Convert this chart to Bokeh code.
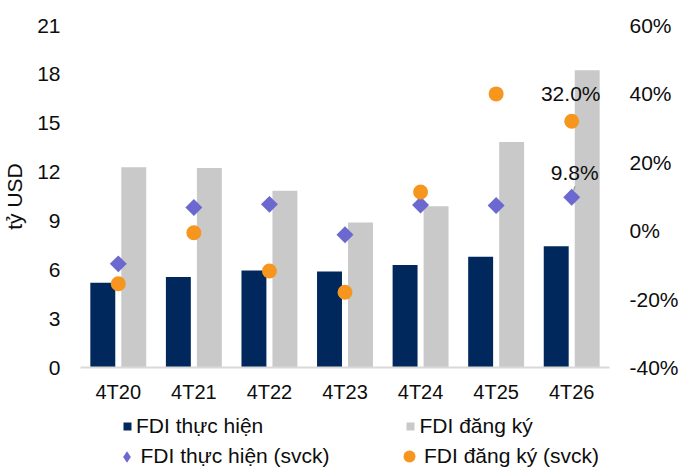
from bokeh.plotting import figure
from bokeh.layouts import column
from bokeh.models import (FactorRange, Range1d, LinearAxis, FixedTicker,
                          NumeralTickFormatter, Legend, LegendItem, ColumnDataSource)
from bokeh.transform import dodge
from bokeh.core.properties import value
from bokeh.embed import file_html
from bokeh.resources import INLINE

# ---- data ----
categories = ["4T20", "4T21", "4T22", "4T23", "4T24", "4T25", "4T26"]
fdi_thuc_hien = [5.2, 5.55, 5.95, 5.9, 6.3, 6.8, 7.45]          # tỷ USD
fdi_dang_ky = [12.3, 12.25, 10.85, 8.9, 9.9, 13.85, 18.25]      # tỷ USD
fdi_thuc_hien_svck = [-0.097, 0.068, 0.077, -0.012, 0.075, 0.074, 0.098]
fdi_dang_ky_svck = [-0.155, -0.006, -0.118, -0.18, 0.113, 0.40, 0.32]
left_ticks = [0, 3, 6, 9, 12, 15, 18, 21]
right_ticks = [-0.4, -0.2, 0.0, 0.2, 0.4, 0.6]
series_names = ["FDI thực hiện", "FDI đăng ký", "FDI thực hiện (svck)", "FDI đăng ký (svck)"]

FONT = "Liberation Sans"
FS = "21px"
FSX = "20px"
TXT = "#0d0d0d"
NAVY = "#00285c"
GRAY = "#c9c9c9"
PURPLE = "#6b68d0"
ORANGE = "#f7961f"

src = ColumnDataSource(dict(cat=categories, th=fdi_thuc_hien, dk=fdi_dang_ky,
                            ths=fdi_thuc_hien_svck, dks=fdi_dang_ky_svck))

P_H = 405
p = figure(width=681, height=P_H, x_range=FactorRange(*categories, range_padding=0),
           y_range=Range1d(0, 21), output_backend="svg", toolbar_location=None,
           min_border_left=80, min_border_right=70, min_border_top=25,
           min_border_bottom=38)
p.outline_line_color = None
p.grid.visible = False
p.extra_y_ranges = {"pct": Range1d(-0.4, 0.6)}

p.vbar(x=dodge("cat", -0.205, range=p.x_range), top="th", width=0.33,
       source=src, fill_color=NAVY, line_color=None)
p.vbar(x=dodge("cat", 0.205, range=p.x_range), top="dk", width=0.33,
       source=src, fill_color=GRAY, line_color=None)

# data labels for the last period (with a short leader for the lower one)
last = categories[-1]
lead_src = ColumnDataSource(dict(cat=[last], y0=[fdi_thuc_hien_svck[-1] + 0.006],
                                 y1=[fdi_thuc_hien_svck[-1] + 0.032]))
p.segment(x0=dodge("cat", 0.01, range=p.x_range), y0="y0",
          x1=dodge("cat", 0.043, range=p.x_range), y1="y1", source=lead_src,
          y_range_name="pct", line_color="#a6a6a6", line_width=1.5)

p.scatter(x="cat", y="ths", source=src, y_range_name="pct", marker="square",
          angle=0.7854, size=12, fill_color=PURPLE, line_color=None)
p.scatter(x="cat", y="dks", source=src, y_range_name="pct", marker="circle",
          size=15, fill_color=ORANGE, line_color=None)

lab_src = ColumnDataSource(dict(
    x=[last, last],
    y=[fdi_dang_ky_svck[-1], fdi_thuc_hien_svck[-1]],
    t=[f"{fdi_dang_ky_svck[-1]*100:.1f}%", f"{fdi_thuc_hien_svck[-1]*100:.1f}%"],
    dx=[-1, 3], dy=[-28, -25]))
p.text(x="x", y="y", text="t", source=lab_src, y_range_name="pct",
       x_offset="dx", y_offset="dy",
       text_align="center", text_baseline="middle", text_font=value(FONT),
       text_font_size=FS, text_color=TXT)

# axes
ax = p.xaxis[0]
ax.axis_line_color = "#d9d9d9"
ax.axis_line_width = 2
ax.major_tick_line_color = None
ax.minor_tick_line_color = None
ax.major_label_standoff = 7
ax.major_label_text_font = FONT
ax.major_label_text_font_size = FSX
ax.major_label_text_color = TXT

ay = p.yaxis[0]
ay.ticker = FixedTicker(ticks=left_ticks)
ay.axis_line_color = None
ay.major_tick_line_color = None
ay.minor_tick_line_color = None
ay.major_label_standoff = 14
ay.major_label_text_font = FONT
ay.major_label_text_font_size = FS
ay.major_label_text_color = TXT
ay.axis_label = "tỷ USD"
ay.axis_label_text_font = FONT
ay.axis_label_text_font_size = FS
ay.axis_label_text_font_style = "normal"
ay.axis_label_text_color = TXT
ay.axis_label_standoff = 8

ar = LinearAxis(y_range_name="pct", ticker=FixedTicker(ticks=right_ticks),
                formatter=NumeralTickFormatter(format="0%"))
ar.axis_line_color = None
ar.major_tick_line_color = None
ar.minor_tick_line_color = None
ar.major_label_standoff = 14
ar.major_label_text_font = FONT
ar.major_label_text_font_size = FS
ar.major_label_text_color = TXT
p.add_layout(ar, "right")

# ---- legend strip (separate figure; key glyphs lie outside its visible range) ----
xi = list(range(len(categories)))
lsrc = ColumnDataSource(dict(x=xi, th=fdi_thuc_hien, dk=fdi_dang_ky,
                             ths=fdi_thuc_hien_svck, dks=fdi_dang_ky_svck))
q = figure(width=681, height=468 - P_H, x_range=Range1d(100, 101),
           y_range=Range1d(100, 101), output_backend="svg", toolbar_location=None,
           min_border=0)
q.axis.visible = False
q.grid.visible = False
q.outline_line_color = None
k_th = q.vbar(x="x", top="th", width=0.3, source=lsrc, fill_color=NAVY, line_color=None)
k_dk = q.vbar(x="x", top="dk", width=0.3, source=lsrc, fill_color=GRAY, line_color=None)
k_ths = q.scatter(x="x", y="ths", source=lsrc, marker="diamond", size=12,
                  fill_color=PURPLE, line_color=None)
k_dks = q.scatter(x="x", y="dks", source=lsrc, marker="circle", size=15,
                  fill_color=ORANGE, line_color=None)


def make_legend(label, rend, loc, gw, gh, standoff):
    lg = Legend(items=[LegendItem(label=label, renderers=[rend])], location=loc)
    lg.border_line_color = None
    lg.background_fill_alpha = 0
    lg.padding = 0
    lg.margin = 0
    lg.spacing = 0
    lg.label_text_font = FONT
    lg.label_text_font_size = FS
    lg.label_text_color = TXT
    lg.glyph_width = gw
    lg.glyph_height = gh
    lg.label_standoff = standoff
    q.add_layout(lg, "center")
    return lg


make_legend(series_names[0], k_th, (42, 30), 10, 10, 4)
make_legend(series_names[1], k_dk, (324.5, 30), 10, 10, 5)
make_legend(series_names[2], k_ths, (31.5, -2.5), 29, 29, -5)
make_legend(series_names[3], k_dks, (314, -2.5), 30, 30, -4)

open("out.html", "w").write(file_html(column(p, q), INLINE))
